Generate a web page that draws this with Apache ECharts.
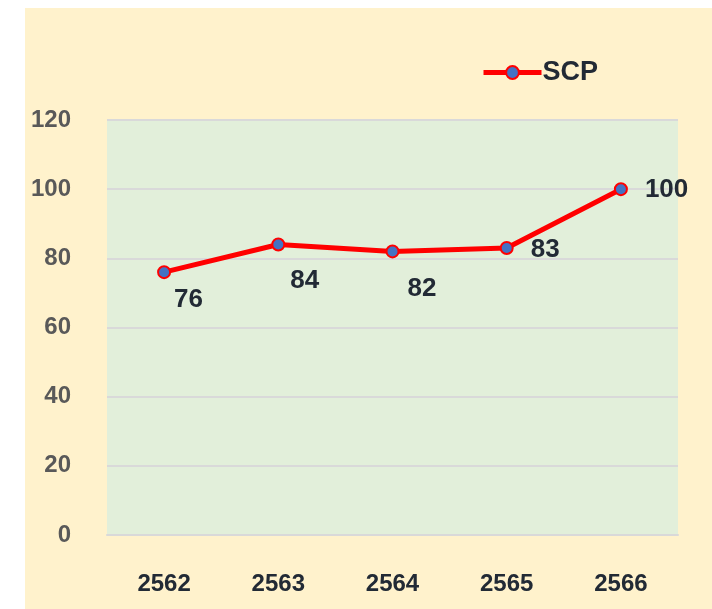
<!DOCTYPE html>
<html>
<head>
<meta charset="utf-8">
<script src="https://cdn.jsdelivr.net/npm/echarts@6/dist/echarts.min.js"></script>
<style>
  html, body { margin: 0; padding: 0; background: #ffffff; }
  #chart { width: 712px; height: 609px; }
</style>
</head>
<body>
<div id="chart"></div>
<script>
// Years (Buddhist era) and SCP scores
const years = ['2562', '2563', '2564', '2565', '2566'];
const scpValues = [76, 84, 82, 83, 100];
const yTicks = { min: 0, max: 120, interval: 20 };

// Where each value label sits relative to its point: [dx, dy]
const labelShift = [[3, 28], [5, 36], [8, 37], [17, 2], [17, 1]];

const chart = echarts.init(document.getElementById('chart'), null, { renderer: 'canvas' });

const textFont = 'Liberation Sans, Arial, sans-serif';

chart.setOption({
  backgroundColor: '#ffffff',
  animation: false,
  graphic: [{
    type: 'rect',
    z: -10,
    silent: true,
    shape: { x: 25, y: 8, width: 712 - 25, height: 609 - 8 },
    style: { fill: '#FFF2CC' }
  }],
  legend: {
    show: true,
    left: 476,
    top: 54,
    itemWidth: 58,
    itemHeight: 16,
    itemGap: 10,
    lineStyle: { color: '#FF0000', width: 5 },
    itemStyle: { color: '#4472C4', borderColor: '#FF0000', borderWidth: 2 },
    textStyle: { fontFamily: textFont, fontSize: 27, fontWeight: 'bold', color: '#222A35', padding: [0, 0, 0, -4] },
    data: ['SCP']
  },
  grid: {
    left: 107,
    top: 120,
    right: 34,
    bottom: 74,
    show: true,
    backgroundColor: '#E2EFDA',
    borderWidth: 0
  },
  xAxis: {
    type: 'category',
    data: years,
    boundaryGap: true,
    axisLine: { show: true, lineStyle: { color: '#D9D9D9', width: 2 } },
    axisTick: { show: false },
    axisLabel: {
      margin: 37,
      fontFamily: textFont,
      fontSize: 24,
      fontWeight: 'bold',
      color: '#222A35'
    }
  },
  yAxis: {
    type: 'value',
    min: yTicks.min,
    max: yTicks.max,
    interval: yTicks.interval,
    axisLine: { show: false },
    axisTick: { show: false },
    splitLine: { show: true, lineStyle: { color: '#D9D9D9', width: 2 } },
    axisLabel: {
      margin: 36,
      fontFamily: textFont,
      fontSize: 24,
      fontWeight: 'bold',
      color: '#595959'
    }
  },
  series: [{
    name: 'SCP',
    type: 'line',
    data: scpValues.map((v, i) => ({
      value: v,
      label: {
        show: true,
        position: 'right',
        distance: 0,
        offset: labelShift[i]
      }
    })),
    symbol: 'circle',
    symbolSize: 12,
    lineStyle: { color: '#FF0000', width: 5 },
    itemStyle: { color: '#4472C4', borderColor: '#FF0000', borderWidth: 2 },
    label: {
      fontFamily: textFont,
      fontSize: 26,
      fontWeight: 'bold',
      color: '#222A35'
    },
    z: 5
  }]
});
</script>
</body>
</html>
